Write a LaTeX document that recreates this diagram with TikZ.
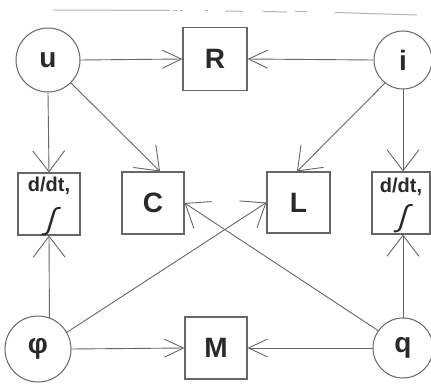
\documentclass[tikz,border=0pt]{standalone}
\usepackage{fontspec}
\setmainfont{Liberation Sans}
\usetikzlibrary{arrows.meta}
\definecolor{ln}{HTML}{666666}
\definecolor{tx}{HTML}{2A2A2A}
\definecolor{faint}{HTML}{B4B4B4}
\tikzset{
  var/.style={circle, draw=ln, line width=1pt, inner sep=0pt, text=tx,
    font=\fontsize{28}{30}\selectfont\bfseries},
  elem/.style={rectangle, draw=ln, line width=1.1pt, inner sep=0pt, text=tx,
    font=\fontsize{28}{30}\selectfont\bfseries},
  conn/.style={draw=ln, line width=0.9pt},
  arrH/.style={conn, -{Straight Barb[length=19pt,width=18pt]}},
  arrV/.style={conn, -{Straight Barb[length=21pt,width=32pt]}},
  dlab/.style={text=tx, font=\fontsize{20}{22}\selectfont\bfseries, inner sep=0pt},
  intg/.style={text=tx, inner sep=0pt, font=\fontsize{30}{30}\selectfont, xslant=0.3},
  rule/.style={draw=faint, line width=1pt},
}
\begin{document}
\begin{tikzpicture}[x=1pt, y=-1pt]
\useasboundingbox (0,0) rectangle (431,385);
\fill[white] (0,0) rectangle (431,385);
\clip (0,0) rectangle (431,385);

% faint rule at the top
\draw[rule] (53,10) -- (170,10.5);
\draw[rule] (173,10.5) -- (177,10.5);
\draw[rule] (180,10.5) -- (183,10.5);
\draw[rule] (205,11) -- (208,11);
\draw[rule] (225,11) -- (243,11.3);
\draw[rule] (263,11.5) -- (287,12);
\draw[rule] (295,12) -- (307,12);
\draw[rule] (335,12.5) -- (417,15);

% variables
\node[var, minimum size=64pt] (u) at (48,60) {u};
\node[var, minimum size=58pt] (i) at (403,60) {i};
\node[var, minimum size=66pt] (phi) at (38,349) {φ};
\node[var, minimum size=60pt] (q) at (403,348) {q};

% elements
\node[elem, minimum width=64pt, minimum height=63pt] (R) at (215,59) {R};
\node[elem, minimum width=62pt, minimum height=62pt] (M) at (216,348) {M};
\node[elem, minimum width=62pt, minimum height=62pt] (C) at (153,203) {C};
\node[elem, minimum width=63pt, minimum height=61pt] (L) at (298.5,202.5) {L};
\node[elem, minimum width=62pt, minimum height=62pt] (D1) at (49,204) {};
\node[elem, minimum width=58pt, minimum height=62pt] (D2) at (401,203) {};

% contents of the d/dt boxes
\node[dlab, anchor=north] (D1t) at ([yshift=-4pt]D1.north) {d/dt,};
\node[intg, anchor=south] (D1i) at ([xshift=-2pt,yshift=-1pt]D1.south) {∫};
\node[dlab, anchor=north] (D2t) at ([yshift=-6pt]D2.north) {d/dt,};
\node[intg, anchor=south] (D2i) at ([xshift=-2pt,yshift=1pt]D2.south) {∫};

% horizontal connectors
\draw[arrH] (u.east) -- (R.west);
\draw[arrH] (i.west) -- (R.east);
\draw[arrH] (phi.east) -- (M.west);
\draw[arrH] (q.west) -- (M.east);

% vertical connectors
\draw[arrV] (u.south) -- (D1.north);
\draw[arrV] (i.south) -- (i.south |- D2.north);
\draw[arrV] (phi.70) -- (D1.south);
\draw[arrV] (q.north) -- (q.north |- D2.south);

% diagonal connectors
\draw[arrV] (u.-45) -- ([xshift=7pt]C.north);
\draw[arrV] (i.-128) -- ([xshift=-1.5pt]L.north);
\draw[arrV] (phi.30) -- (L.west);
\draw[arrV] (q.145) -- (C.east);
\end{tikzpicture}
\end{document}
